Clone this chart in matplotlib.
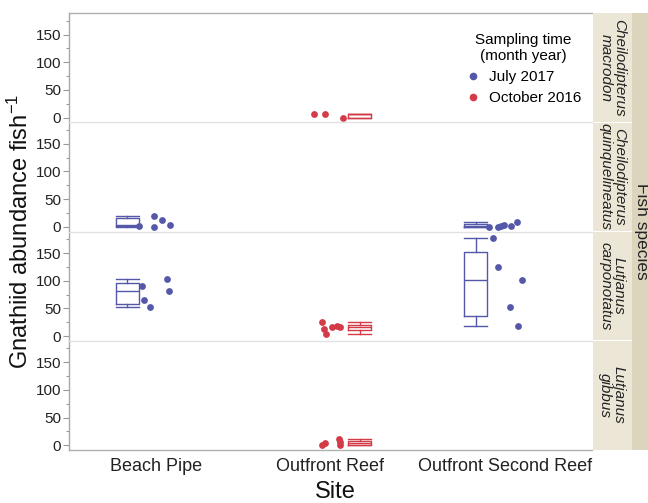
import numpy as np
import matplotlib
matplotlib.use("Agg")
import matplotlib.pyplot as plt
from matplotlib.patches import Rectangle
from matplotlib.lines import Line2D

plt.rcParams['font.family'] = ['Liberation Sans', 'DejaVu Sans']
plt.rcParams['mathtext.default'] = 'regular'

# ---------------- data ----------------
sites = ["Beach Pipe", "Outfront Reef", "Outfront Second Reef"]
species = ["Cheilodipterus\nmacrodon", "Cheilodipterus\nquinquelineatus",
           "Lutjanus\ncarponotatus", "Lutjanus\ngibbus"]
times = ["July 2017", "October 2016"]
yticks = [0, 50, 100, 150]

# gnathiid counts per fish (species, site, time)
cm_or_oct = [7, 7, 0]
cq_bp_jul = [2, 20, 13, 4, 0]
cq_osr_jul = [0, 0, 1, 3, 1, 9]
lc_bp_jul = [90, 65, 52, 103, 81]
lc_or_oct = [26, 13, 4, 17, 18, 16]
lc_osr_jul = [178, 125, 102, 53, 19]
lg_or_oct = [0, 4, 11, 0, 6]

# horizontal jitter of the points (category units)
cm_or_oct_jit = [-0.092, -0.034, 0.069]
cq_bp_jul_jit = [-0.098, -0.011, 0.034, 0.080, -0.011]
cq_osr_jul_jit = [-0.092, -0.040, -0.023, -0.006, 0.034, 0.069]
lc_bp_jul_jit = [-0.080, -0.069, -0.034, 0.063, 0.075]
lc_or_oct_jit = [-0.046, -0.040, -0.023, 0.011, 0.040, 0.052]
lc_osr_jul_jit = [-0.069, -0.040, 0.098, 0.029, 0.075]
lg_or_oct_jit = [-0.046, -0.029, 0.046, 0.057, 0.052]

groups = [
    (0, 1, 1, cm_or_oct, cm_or_oct_jit),
    (1, 0, 0, cq_bp_jul, cq_bp_jul_jit),
    (1, 2, 0, cq_osr_jul, cq_osr_jul_jit),
    (2, 0, 0, lc_bp_jul, lc_bp_jul_jit),
    (2, 1, 1, lc_or_oct, lc_or_oct_jit),
    (2, 2, 0, lc_osr_jul, lc_osr_jul_jit),
    (3, 1, 1, lg_or_oct, lg_or_oct_jit),
]

# ---------------- style ----------------
colors = ['#5558A8', '#D23B47']
box_off = [-0.167, 0.167]
box_w = 0.132
W, H = 648, 503
fig = plt.figure(figsize=(W / 100, H / 100), dpi=100)

left_px, right_px, top_px, bot_px = 69, 592, 13, 450
ph = (bot_px - top_px) / 4
axes = []
for i in range(4):
    y0 = 1 - (top_px + (i + 1) * ph) / H
    ax = fig.add_axes([left_px / W, y0, (right_px - left_px) / W, ph / H])
    axes.append(ax)


def jmp_stats(vals):
    v = np.sort(np.asarray(vals, float))
    q1, med, q3 = np.quantile(v, [0.25, 0.5, 0.75], method='weibull')
    iqr = q3 - q1
    lo = v[v >= q1 - 1.5 * iqr].min()
    hi = v[v <= q3 + 1.5 * iqr].max()
    return dict(med=med, q1=q1, q3=q3, whislo=lo, whishi=hi, fliers=[])


for sp, site, t, vals, jit in groups:
    ax = axes[sp]
    c = colors[t]
    st = jmp_stats(vals)
    ax.bxp([st], positions=[site + box_off[t]], widths=box_w, capwidths=box_w,
           showfliers=False, manage_ticks=False,
           boxprops=dict(color=c, linewidth=1.0),
           medianprops=dict(color=c, linewidth=1.0),
           whiskerprops=dict(color=c, linewidth=1.0),
           capprops=dict(color=c, linewidth=1.0))
    ax.scatter(np.array(jit) + site, vals, s=24, color=c, zorder=3, linewidths=0)

for i, ax in enumerate(axes):
    ax.set_xlim(-0.5, 2.5)
    ax.set_ylim(-8.5, 189)
    ax.set_yticks(yticks)
    ax.set_yticks([25, 75, 125, 175], minor=True)
    ax.tick_params(axis='y', which='major', length=4, width=0.8, color='#9a9a9a',
                   labelsize=11, labelcolor='#222222', pad=1.5)
    ax.tick_params(axis='y', which='minor', length=2.5, width=0.8, color='#9a9a9a')
    ax.set_xticks(range(3))
    if i < 3:
        ax.tick_params(axis='x', length=0, labelbottom=False)
    else:
        ax.set_xticklabels(sites, fontsize=13, color='#222222')
        ax.tick_params(axis='x', length=0, pad=6)
    ax.spines['right'].set_visible(False)
    ax.spines['left'].set_color('#a8a8a8')
    ax.spines['left'].set_linewidth(1.0)
    if i == 0:
        ax.spines['top'].set_color('#b0b0b0')
    else:
        ax.spines['top'].set_color('#e2e2e2')
    ax.spines['top'].set_linewidth(1.0)
    if i < 3:
        ax.spines['bottom'].set_visible(False)
    else:
        ax.spines['bottom'].set_color('#b0b0b0')
        ax.spines['bottom'].set_linewidth(1.0)

# species strips
inner_c, outer_c = '#ECE6D6', '#DDD4BE'
sx0, sx1, sx2 = 592, 632, 648
for i, name in enumerate(species):
    ytop = top_px + i * ph
    fig.patches.append(Rectangle(((sx0 + 0.5) / W, 1 - (ytop + ph - 0.5) / H),
                                 (sx1 - sx0 - 1) / W, (ph - 1) / H,
                                 transform=fig.transFigure, facecolor=inner_c,
                                 edgecolor='none', zorder=0))
    fig.text((sx0 + sx1) / 2 / W, 1 - (ytop + ph / 2) / H, name, rotation=-90,
             ha='center', va='center', fontsize=11, style='italic',
             color='#222222', linespacing=0.95, multialignment='center')
fig.patches.append(Rectangle((sx1 / W, 1 - bot_px / H), (sx2 - sx1) / W,
                             (bot_px - top_px) / H, transform=fig.transFigure,
                             facecolor=outer_c, edgecolor='none', zorder=0))
fig.text(642 / W, 1 - (top_px + bot_px) / 2 / H, "Fish species", rotation=-90,
         ha='center', va='center', fontsize=12.5, color='#222222')

# axis titles
fig.text(20 / W, 1 - (top_px + bot_px) / 2 / H, "Gnathiid abundance fish$^{-1}$",
         rotation=90, ha='center', va='center', fontsize=17, color='#111111')
fig.text(335 / W, 1 - 492 / H, "Site", ha='center', va='center', fontsize=17,
         color='#111111')

# legend
handles = [Line2D([], [], marker='o', linestyle='none', color=colors[k],
                  markersize=4.5) for k in range(2)]
leg = axes[0].legend(handles, times, title="Sampling time\n(month year)",
                     loc='upper right', bbox_to_anchor=(592 / W, 1 - 22 / H),
                     bbox_transform=fig.transFigure, frameon=False,
                     fontsize=11, title_fontsize=11, handletextpad=0.55,
                     labelspacing=0.45, handlelength=1.0, borderpad=0.2)
leg.get_title().set_multialignment('center')
leg.get_title().set_linespacing(1.25)

fig.savefig("out.png", dpi=100)
